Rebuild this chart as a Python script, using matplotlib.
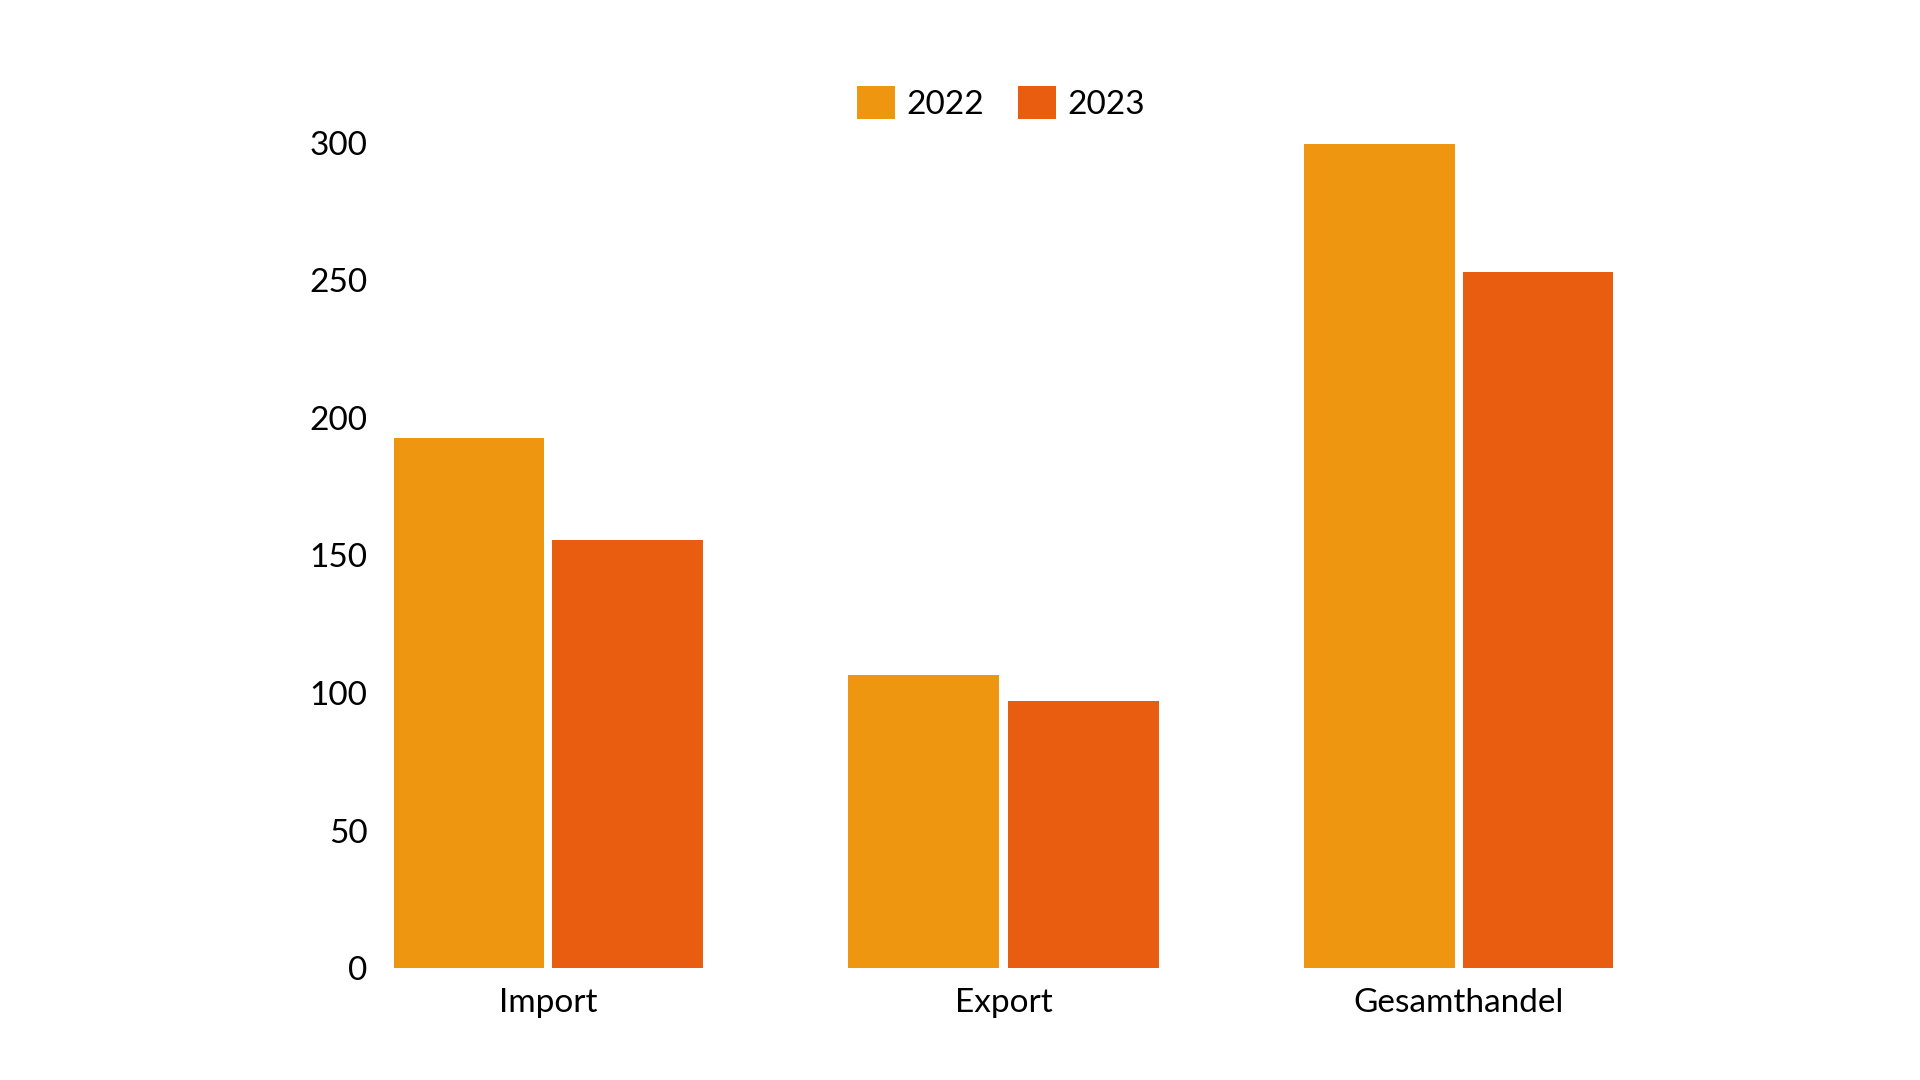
import numpy as np
import matplotlib.pyplot as plt

categories = ["Import", "Export", "Gesamthandel"]
years = ["2022", "2023"]
values_2022 = [192.6, 106.5, 299.6]
values_2023 = [155.6, 97.1, 253.2]
colors = ["#EF9611", "#E85D0F"]

plt.rcParams["font.family"] = ["Lato", "DejaVu Sans"]

fig = plt.figure(figsize=(19.2, 10.8), dpi=100)
ax = fig.add_axes([0.2052, 0.1037, 0.6349, 0.7639])

x = np.arange(len(categories))
w = 0.331
off = 0.175
ax.bar(x - off, values_2022, w, color=colors[0], label=years[0])
ax.bar(x + off, values_2023, w, color=colors[1], label=years[1])

ax.set_xlim(-0.338, 2.338)
ax.set_ylim(0, 300)
ax.set_yticks(np.arange(0, 301, 50))
ax.set_xticks(x)
ax.set_xticklabels(categories)
ax.tick_params(axis="y", length=0, pad=19, labelsize=24)
ax.tick_params(axis="x", length=0, pad=14.5, labelsize=24)
for s in ax.spines.values():
    s.set_visible(False)

fig.legend(loc="center", bbox_to_anchor=(0.5214, 0.905), ncol=2, frameon=False,
           fontsize=24, handlelength=1.15, handleheight=1.15,
           handletextpad=0.35, columnspacing=1.0)

fig.savefig("out.png", dpi=100)
